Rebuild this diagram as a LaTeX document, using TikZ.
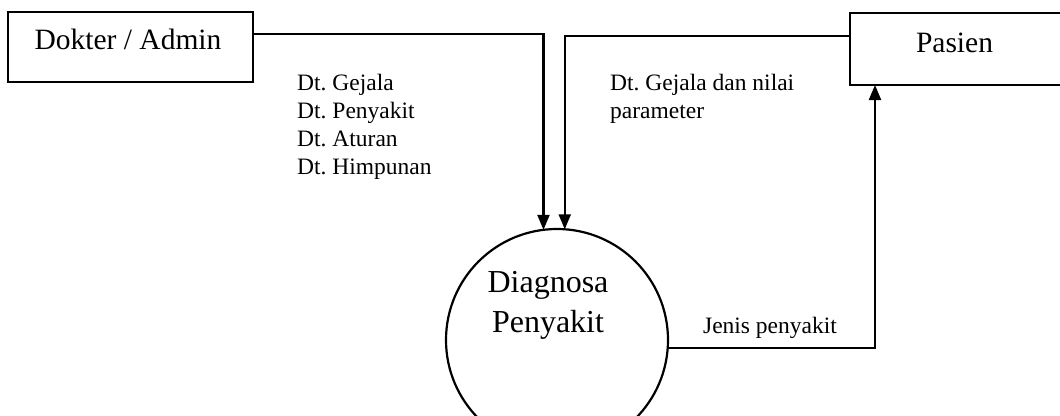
\documentclass[tikz,border=0pt]{standalone}
\usepackage{fontspec}
\setmainfont{Liberation Serif}
\usetikzlibrary{arrows.meta}
\frenchspacing
\begin{document}
\begin{tikzpicture}[x=1pt,y=-1pt,
  ent/.style={draw, line width=2.2, inner sep=0, outer sep=0},
  proc/.style={draw, circle, line width=2.2, inner sep=0, outer sep=0, minimum size=222},
  flow/.style={line width=2.2, -{Triangle[length=15,width=12]}},
  txt/.style={inner sep=0, anchor=base},
  lbl/.style={inner sep=0, anchor=base west, align=left, font=\fontsize{23.5}{27.7}\selectfont},
]
\useasboundingbox (0,0) rectangle (1060,415);
\clip (0,0) rectangle (1060,415);

% external entities
\node[ent, minimum width=245, minimum height=70] (dokter) at (130.5,47) {};
\node[txt, font=\fontsize{29.5}{34}\selectfont] (dokterTxt) at (128,49) {Dokter / Admin};
\node[ent, minimum width=225, minimum height=72] (pasien) at (962.5,49) {};
\node[txt, font=\fontsize{29.5}{34}\selectfont] (pasienTxt) at (954.5,52) {Pasien};

% process (the base anchor of a multi-line node sits on its last line)
\node[proc] (diag) at (557,340) {};
\node[txt, align=center, font=\fontsize{32}{40}\selectfont] (diagTxt) at (548,332) {Diagnosa\\Penyakit};

% data flows
\draw[flow] ([yshift=13]dokter.east) -| (diag.97.8);
\draw[flow] ([yshift=13]pasien.west) -| (diag.86.9);
\draw[flow] (diag.-4.1) -| ([xshift=25]pasien.south west);

% flow labels
\node[lbl] (inLbl) at (297,174) {Dt. Gejala\\Dt. Penyakit\\Dt. Aturan\\Dt. Himpunan};
\node[lbl] (pasLbl) at (610,118) {Dt. Gejala dan nilai\\parameter};
\node[txt, font=\fontsize{23.5}{27.7}\selectfont] (outLbl) at (770,333) {Jenis penyakit};
\end{tikzpicture}
\end{document}
